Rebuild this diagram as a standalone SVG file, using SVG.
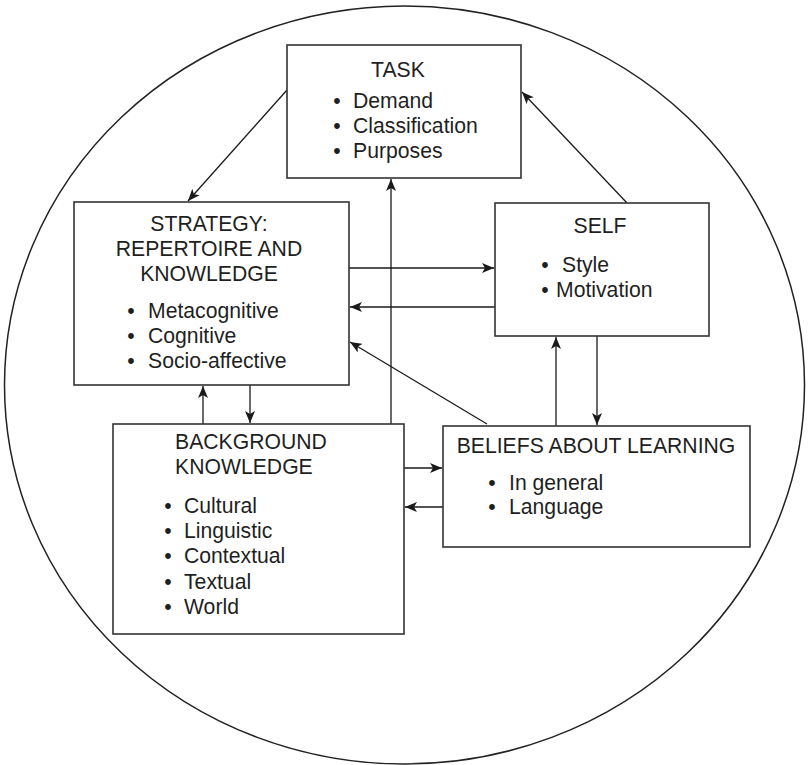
<svg xmlns="http://www.w3.org/2000/svg" width="809" height="765" viewBox="0 0 809 765">
<defs>
<marker id="ah" markerWidth="13" markerHeight="10" refX="12" refY="5" orient="auto" markerUnits="userSpaceOnUse">
<path d="M0,0 L12,5 L0,10 L3,5 z" fill="#1a1a1a"/>
</marker>
<style>
.box{fill:#fff;stroke:#333;stroke-width:1.6}
.arr{fill:none;stroke:#1a1a1a;stroke-width:1.3;marker-end:url(#ah)}
text{font-family:"Liberation Sans",Arial,sans-serif;font-size:21.2px;fill:#1f1f1f}
.c{text-anchor:middle}
.b{text-anchor:middle}
</style>
</defs>
<rect width="809" height="765" fill="#fff"/>
<ellipse cx="404.5" cy="385" rx="400" ry="379" fill="none" stroke="#222" stroke-width="1.5"/>
<g id="connectors">
<line class="arr" x1="287" y1="90" x2="188" y2="201"/>
<line class="arr" x1="627" y1="203" x2="522" y2="92"/>
<line class="arr" x1="349" y1="268" x2="494" y2="268"/>
<line class="arr" x1="495" y1="307" x2="350" y2="307"/>
<line class="arr" x1="487" y1="424" x2="350" y2="342"/>
<line class="arr" x1="391" y1="424" x2="391" y2="179"/>
<line class="arr" x1="203" y1="424" x2="203" y2="386"/>
<line class="arr" x1="250" y1="385" x2="250" y2="423"/>
<line class="arr" x1="404" y1="468" x2="442" y2="468"/>
<line class="arr" x1="443" y1="507" x2="405" y2="507"/>
<line class="arr" x1="556" y1="426" x2="556" y2="337"/>
<line class="arr" x1="597" y1="336" x2="597" y2="425"/>
</g>
<g id="task">
<rect class="box" x="287" y="45" width="234" height="133"/>
<text class="c" x="398" y="77">TASK</text>
<text class="b" x="337" y="108">•</text><text x="353" y="108">Demand</text>
<text class="b" x="337" y="133">•</text><text x="353" y="133">Classification</text>
<text class="b" x="337" y="158">•</text><text x="353" y="158">Purposes</text>
</g>
<g id="strategy">
<rect class="box" x="74" y="202" width="275" height="183"/>
<text class="c" x="209" y="231">STRATEGY:</text>
<text class="c" x="209" y="256">REPERTOIRE AND</text>
<text class="c" x="209" y="281">KNOWLEDGE</text>
<text class="b" x="131" y="318">•</text><text x="148" y="318">Metacognitive</text>
<text class="b" x="131" y="343">•</text><text x="148" y="343">Cognitive</text>
<text class="b" x="131" y="368">•</text><text x="148" y="368">Socio-affective</text>
</g>
<g id="self">
<rect class="box" x="495" y="203" width="214" height="133"/>
<text class="c" x="600" y="233">SELF</text>
<text class="b" x="545" y="272">•</text><text x="562" y="272">Style</text>
<text class="b" x="545" y="297">•</text><text x="556" y="297">Motivation</text>
</g>
<g id="background">
<rect class="box" x="113" y="424" width="291" height="210"/>
<text x="175" y="449">BACKGROUND</text>
<text x="175" y="474">KNOWLEDGE</text>
<text class="b" x="168" y="513">•</text><text x="184" y="513">Cultural</text>
<text class="b" x="168" y="538">•</text><text x="184" y="538">Linguistic</text>
<text class="b" x="168" y="563">•</text><text x="184" y="563">Contextual</text>
<text class="b" x="168" y="589">•</text><text x="184" y="589">Textual</text>
<text class="b" x="168" y="614">•</text><text x="184" y="614">World</text>
</g>
<g id="beliefs">
<rect class="box" x="443" y="426" width="307" height="121"/>
<text class="c" x="596" y="453">BELIEFS ABOUT LEARNING</text>
<text class="b" x="492" y="490">•</text><text x="509" y="490">In general</text>
<text class="b" x="492" y="514">•</text><text x="509" y="514">Language</text>
</g>
</svg>
